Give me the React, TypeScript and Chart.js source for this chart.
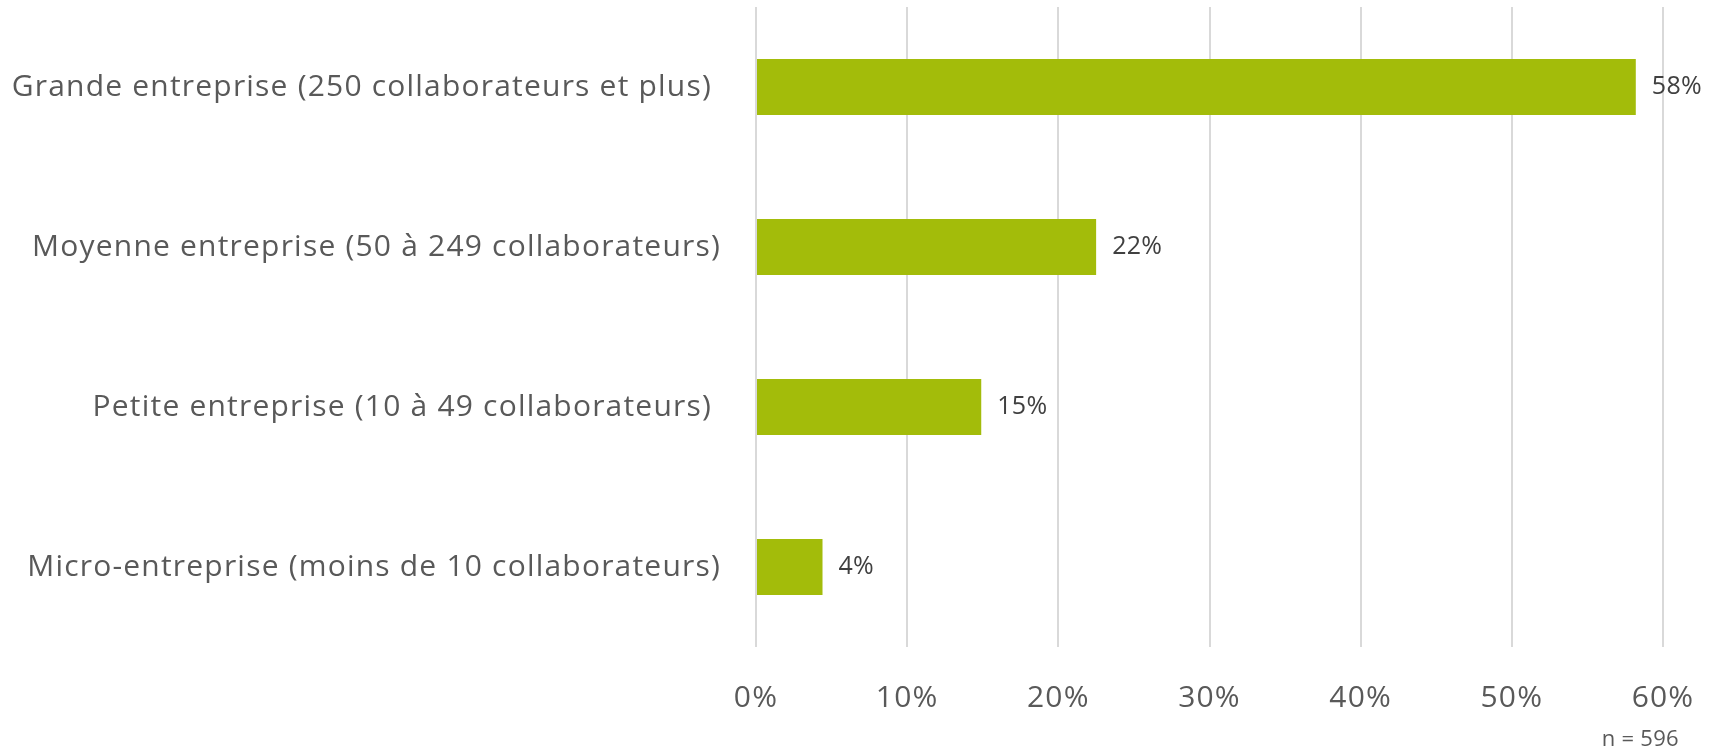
import React, { useEffect, useRef } from "react";
import { Chart, registerables } from "chart.js";

Chart.register(...registerables);

const categories = [
  "Grande entreprise (250 collaborateurs et plus) ",
  "Moyenne entreprise (50 à 249 collaborateurs)",
  "Petite entreprise (10 à 49 collaborateurs) ",
  "Micro-entreprise (moins de 10 collaborateurs)",
];
const values = [58.2, 22.5, 14.9, 4.4];
const valueLabels = ["58%", "22%", "15%", "4%"];
const tickValues = [0, 10, 20, 30, 40, 50, 60];
const footnote = "n = 596";

const FONT = "'Open Sans', sans-serif";

const spacingPlugin = {
  id: "spacing",
  beforeDraw(chart: any) {
    chart.ctx.letterSpacing = "1.2px";
  },
  afterDraw(chart: any) {
    chart.ctx.letterSpacing = "0px";
  },
};

const labelPlugin = {
  id: "valueLabels",
  afterDatasetsDraw(chart: any) {
    const ctx = chart.ctx;
    const meta = chart.getDatasetMeta(0);
    ctx.save();
    ctx.letterSpacing = "0.3px";
    ctx.font = `25px ${FONT}`;
    ctx.fillStyle = "#404040";
    ctx.textAlign = "left";
    ctx.textBaseline = "middle";
    meta.data.forEach((bar: any, i: number) => {
      ctx.fillText(valueLabels[i], bar.x + 16, bar.y);
    });
    ctx.font = `22px ${FONT}`;
    ctx.fillStyle = "#595959";
    ctx.textAlign = "right";
    ctx.textBaseline = "alphabetic";
    ctx.fillText(footnote, chart.width - 36, chart.height - 2);
    ctx.restore();
  },
};

function zeroPadding(scale: any) {
  scale.paddingTop = 0;
  scale.paddingBottom = 0;
  scale.paddingLeft = 0;
  scale.paddingRight = 0;
}

export default function App() {
  const ref = useRef<HTMLCanvasElement>(null);
  useEffect(() => {
    document.body.style.margin = "0";
    const chart = new Chart(ref.current!, {
      type: "bar",
      data: {
        labels: categories,
        datasets: [
          {
            data: values,
            backgroundColor: "#a3bc0a",
            categoryPercentage: 1,
            barPercentage: 0.35,
          },
        ],
      },
      options: {
        indexAxis: "y",
        animation: false,
        responsive: false,
        layout: { padding: { top: 7, right: 52, left: 0, bottom: 0 } },
        plugins: { legend: { display: false }, tooltip: { enabled: false } },
        scales: {
          x: {
            min: 0,
            max: 60,
            afterBuildTicks(scale: any) {
              scale.ticks = tickValues.map((v) => ({ value: v }));
            },
            afterFit(scale: any) {
              scale.height = 101;
              zeroPadding(scale);
            },
            grid: { color: "#d9d9d9", lineWidth: 2, drawTicks: false },
            border: { display: false },
            ticks: {
              padding: 33,
              color: "#595959",
              font: { family: FONT, size: 30 },
              callback: (v: any) => `${v}%`,
            },
          },
          y: {
            afterFit(scale: any) {
              scale.width = 756;
              zeroPadding(scale);
            },
            grid: { display: false, drawTicks: false },
            border: { display: false },
            ticks: {
              padding: 35,
              color: "#595959",
              font: { family: FONT, size: 30 },
            },
          },
        },
      },
      plugins: [spacingPlugin, labelPlugin],
    });
    return () => chart.destroy();
  }, []);
  return (
    <div style={{ position: "fixed", left: 0, top: 0, width: 1715, height: 748 }}>
      <canvas ref={ref} width={1715} height={748} />
    </div>
  );
}
